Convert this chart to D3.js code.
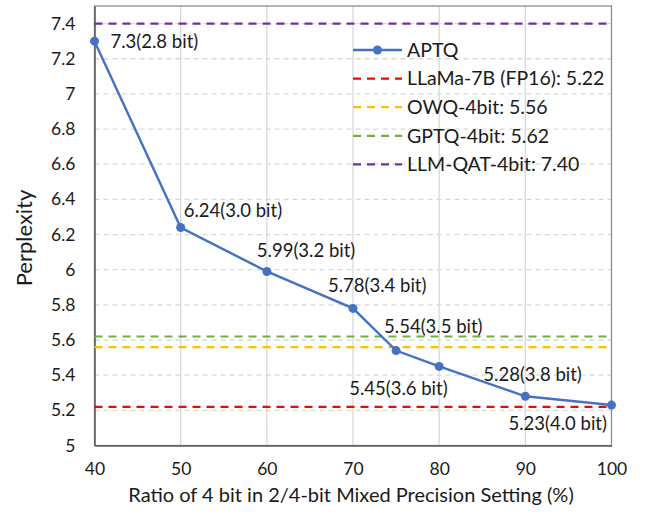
<!DOCTYPE html>
<html><head><meta charset="utf-8">
<script src="https://cdn.jsdelivr.net/npm/d3@7/dist/d3.min.js"></script>
<style>body{margin:0;background:#fff;} svg{display:block;} text{font-family:Lato,"Open Sans",sans-serif;fill:#1a1a1a;}</style>
</head><body>
<svg id="c" width="648" height="513"></svg>
<script>
const ratios = [40, 50, 60, 70, 75, 80, 90, 100];
const perplexity = [7.3, 6.24, 5.99, 5.78, 5.54, 5.45, 5.28, 5.23];
const bits = ["2.8", "3.0", "3.2", "3.4", "3.5", "3.6", "3.8", "4.0"];
const baselineNames = ["LLaMa-7B (FP16): 5.22", "OWQ-4bit: 5.56", "GPTQ-4bit: 5.62", "LLM-QAT-4bit: 7.40"];
const baselineValues = [5.22, 5.56, 5.62, 7.40];
const baselineColors = ["#FF0000", "#FFC000", "#70AD47", "#7030A0"];
const xTicks = [40, 50, 60, 70, 80, 90, 100];
const yTicks = [5, 5.2, 5.4, 5.6, 5.8, 6, 6.2, 6.4, 6.6, 6.8, 7, 7.2, 7.4];
// label offsets (dx from point to text start, dy to text center)
const labelDx = [16, 3, -10, -25, -12, -90, -42, -103];
const labelDy = [0, -17, -21, -23, -24, 22, -22, 18];

const svg = d3.select("#c");
const L = 94.5, R = 611.5, T = 6, B = 445.5;
const x = d3.scaleLinear().domain([40, 100]).range([L, R]);
const y = d3.scaleLinear().domain([5, 7.5]).range([B, T]);

svg.append("g").selectAll("line").data(xTicks.slice(1, -1)).join("line")
  .attr("x1", d => x(d)).attr("x2", d => x(d)).attr("y1", T).attr("y2", B)
  .attr("stroke", "#d9d9d9").attr("stroke-width", 1.3);
svg.append("g").selectAll("line").data(yTicks.slice(1)).join("line")
  .attr("x1", L).attr("x2", R).attr("y1", d => y(d)).attr("y2", d => y(d))
  .attr("stroke", "#d9d9d9").attr("stroke-width", 1.3).attr("stroke-dasharray", "5,4");

svg.append("rect").attr("x", L).attr("y", T).attr("width", R - L).attr("height", B - T)
  .attr("fill", "none").attr("stroke", "#8c8c8c").attr("stroke-width", 1.3);

const yAxis = d3.axisLeft(y).tickValues(yTicks).tickFormat(d => String(+d.toFixed(1))).tickSize(0).tickPadding(19);
const gy = svg.append("g").attr("transform", `translate(${L},0)`).call(yAxis);
gy.select(".domain").attr("stroke", "#595959").attr("stroke-width", 1.5);
gy.selectAll("text").style("font-size", "17.5px").attr("fill", "#1a1a1a");
const xAxis = d3.axisBottom(x).tickValues(xTicks).tickSize(0).tickPadding(17);
const gx = svg.append("g").attr("transform", `translate(0,${B})`).call(xAxis);
gx.select(".domain").attr("stroke", "#595959").attr("stroke-width", 1.5);
gx.selectAll("text").style("font-size", "17.5px").attr("fill", "#1a1a1a");

svg.append("g").selectAll("line").data(baselineValues).join("line")
  .attr("x1", L).attr("x2", R).attr("y1", d => y(d)).attr("y2", d => y(d))
  .attr("stroke", (d, i) => baselineColors[i]).attr("stroke-width", 2.2).attr("stroke-dasharray", "8,6");

const pts = ratios.map((r, i) => [r, perplexity[i]]);
svg.append("path").datum(pts).attr("fill", "none").attr("stroke", "#4472C4").attr("stroke-width", 2.4)
  .attr("d", d3.line().x(d => x(d[0])).y(d => y(d[1])));
svg.append("g").selectAll("circle").data(pts).join("circle")
  .attr("cx", d => x(d[0])).attr("cy", d => y(d[1])).attr("r", 4.5).attr("fill", "#4472C4");

svg.append("g").selectAll("text").data(pts).join("text")
  .attr("x", (d, i) => x(d[0]) + labelDx[i]).attr("y", (d, i) => y(d[1]) + labelDy[i])
  .attr("dy", "0.35em").style("font-size", "18.5px")
  .text((d, i) => `${d[1]}(${bits[i]} bit)`);

const lg = svg.append("g");
const lx1 = 353, lx2 = 402, ltx = 407, ly0 = 50, lstep = 28.6;
lg.append("line").attr("x1", lx1).attr("x2", lx2).attr("y1", ly0).attr("y2", ly0)
  .attr("stroke", "#4472C4").attr("stroke-width", 2.4);
lg.append("circle").attr("cx", (lx1 + lx2) / 2).attr("cy", ly0).attr("r", 4.5).attr("fill", "#4472C4");
lg.append("text").attr("x", ltx).attr("y", ly0).attr("dy", "0.35em").style("font-size", "19.5px").text("APTQ");
baselineNames.forEach((n, i) => {
  const yy = ly0 + lstep * (i + 1);
  lg.append("line").attr("x1", lx1).attr("x2", lx2).attr("y1", yy).attr("y2", yy)
    .attr("stroke", baselineColors[i]).attr("stroke-width", 2.2).attr("stroke-dasharray", "8,6");
  lg.append("text").attr("x", ltx).attr("y", yy).attr("dy", "0.35em").style("font-size", "19.5px").text(n);
});

svg.append("text").attr("transform", "translate(24,238) rotate(-90)").attr("text-anchor", "middle")
  .attr("dy", "0.35em").style("font-size", "22px").text("Perplexity");
svg.append("text").attr("x", 351).attr("y", 495).attr("text-anchor", "middle").attr("dy", "0.35em")
  .style("font-size", "20px").text("Ratio of 4 bit in 2/4-bit Mixed Precision Setting (%)");
</script>
</body></html>
